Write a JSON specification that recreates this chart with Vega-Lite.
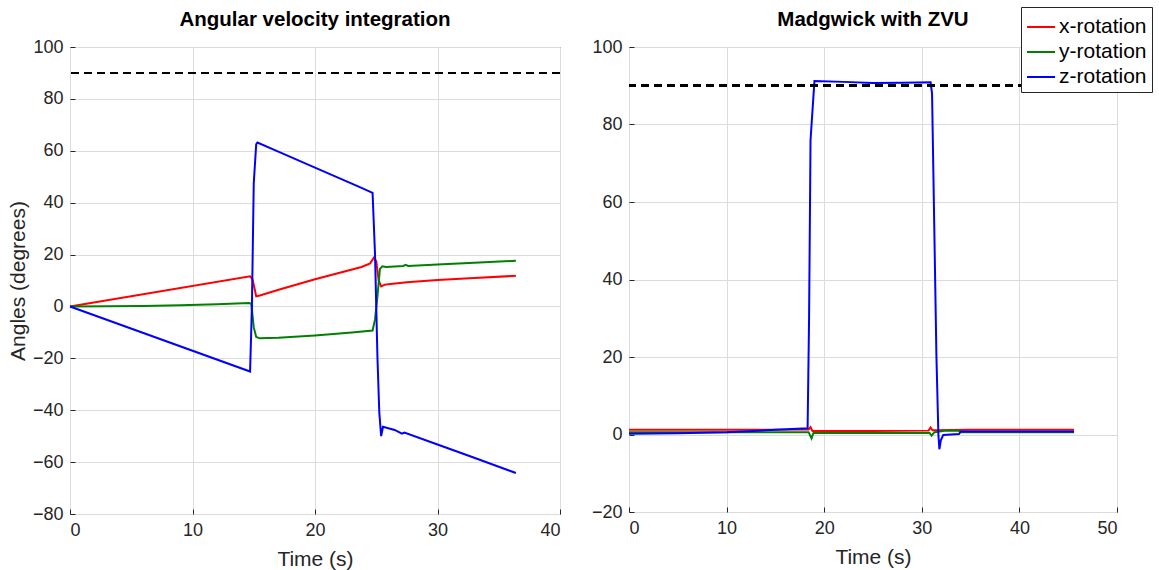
{
  "$schema": "https://vega.github.io/schema/vega-lite/v6.json",
  "padding": {"left": 6, "top": 6, "right": 0, "bottom": 0},
  "bounds": "flush",
  "spacing": 69,
  "config": {
    "font": "Liberation Sans",
    "view": {"stroke": "#262626", "strokeWidth": 1},
    "axis": {
      "labelFont": "Liberation Sans",
      "labelFontSize": 18,
      "labelColor": "#262626",
      "titleFont": "Liberation Sans",
      "titleFontSize": 21,
      "titleFontWeight": "normal",
      "titleColor": "#262626",
      "gridColor": "#dcdcdc",
      "gridWidth": 1,
      "domain": false,
      "ticks": true,
      "tickSize": -5,
      "tickColor": "#262626",
      "tickWidth": 1,
      "labelPadding": 12
    },
    "title": {"font": "Liberation Sans", "fontSize": 20.5, "fontWeight": "bold", "color": "#000000", "offset": 8, "anchor": "middle"}
  },
  "datasets": {
    "left": [
      {"t": 0, "v": 0, "s": "x-rotation"},
      {"t": 14.7, "v": 11.6, "s": "x-rotation"},
      {"t": 14.9, "v": 10.5, "s": "x-rotation"},
      {"t": 15.2, "v": 3.9, "s": "x-rotation"},
      {"t": 15.5, "v": 4.2, "s": "x-rotation"},
      {"t": 17.1, "v": 6.5, "s": "x-rotation"},
      {"t": 20, "v": 10.5, "s": "x-rotation"},
      {"t": 23.8, "v": 15.2, "s": "x-rotation"},
      {"t": 24.5, "v": 16.6, "s": "x-rotation"},
      {"t": 24.8, "v": 18.8, "s": "x-rotation"},
      {"t": 25.0, "v": 17.5, "s": "x-rotation"},
      {"t": 25.2, "v": 10, "s": "x-rotation"},
      {"t": 25.4, "v": 7.7, "s": "x-rotation"},
      {"t": 25.7, "v": 8.4, "s": "x-rotation"},
      {"t": 26, "v": 8.6, "s": "x-rotation"},
      {"t": 27.5, "v": 9.3, "s": "x-rotation"},
      {"t": 30, "v": 10.2, "s": "x-rotation"},
      {"t": 33, "v": 11, "s": "x-rotation"},
      {"t": 36.4, "v": 11.8, "s": "x-rotation"},
      {"t": 0, "v": 0, "s": "y-rotation"},
      {"t": 3, "v": 0.05, "s": "y-rotation"},
      {"t": 6, "v": 0.2, "s": "y-rotation"},
      {"t": 9, "v": 0.45, "s": "y-rotation"},
      {"t": 12, "v": 0.85, "s": "y-rotation"},
      {"t": 14.6, "v": 1.3, "s": "y-rotation"},
      {"t": 14.8, "v": 1.0, "s": "y-rotation"},
      {"t": 15.0, "v": -8, "s": "y-rotation"},
      {"t": 15.2, "v": -11.8, "s": "y-rotation"},
      {"t": 15.5, "v": -12.3, "s": "y-rotation"},
      {"t": 17, "v": -12.1, "s": "y-rotation"},
      {"t": 20, "v": -11.2, "s": "y-rotation"},
      {"t": 23, "v": -10, "s": "y-rotation"},
      {"t": 24.7, "v": -9.3, "s": "y-rotation"},
      {"t": 24.9, "v": -5, "s": "y-rotation"},
      {"t": 25.1, "v": 4, "s": "y-rotation"},
      {"t": 25.3, "v": 14.5, "s": "y-rotation"},
      {"t": 25.5, "v": 15.5, "s": "y-rotation"},
      {"t": 25.8, "v": 15.2, "s": "y-rotation"},
      {"t": 27.2, "v": 15.6, "s": "y-rotation"},
      {"t": 27.4, "v": 16, "s": "y-rotation"},
      {"t": 27.6, "v": 15.6, "s": "y-rotation"},
      {"t": 30, "v": 16.2, "s": "y-rotation"},
      {"t": 33, "v": 16.8, "s": "y-rotation"},
      {"t": 36.4, "v": 17.6, "s": "y-rotation"},
      {"t": 0, "v": 0, "s": "z-rotation"},
      {"t": 14.7, "v": -25.1, "s": "z-rotation"},
      {"t": 14.85, "v": 0, "s": "z-rotation"},
      {"t": 15.0, "v": 47.5, "s": "z-rotation"},
      {"t": 15.2, "v": 62.5, "s": "z-rotation"},
      {"t": 15.3, "v": 63.2, "s": "z-rotation"},
      {"t": 17.1, "v": 59.5, "s": "z-rotation"},
      {"t": 20, "v": 53.5, "s": "z-rotation"},
      {"t": 23.8, "v": 45.7, "s": "z-rotation"},
      {"t": 24.7, "v": 43.8, "s": "z-rotation"},
      {"t": 24.9, "v": 20, "s": "z-rotation"},
      {"t": 25.1, "v": -20, "s": "z-rotation"},
      {"t": 25.25, "v": -41, "s": "z-rotation"},
      {"t": 25.4, "v": -50, "s": "z-rotation"},
      {"t": 25.55, "v": -46.4, "s": "z-rotation"},
      {"t": 26.5, "v": -47.6, "s": "z-rotation"},
      {"t": 27.1, "v": -49, "s": "z-rotation"},
      {"t": 27.3, "v": -48.6, "s": "z-rotation"},
      {"t": 30, "v": -53.2, "s": "z-rotation"},
      {"t": 33, "v": -58.3, "s": "z-rotation"},
      {"t": 36.4, "v": -64.2, "s": "z-rotation"}
    ],
    "right": [
      {"t": 0, "v": 1.2, "s": "x-rotation"},
      {"t": 10, "v": 1.2, "s": "x-rotation"},
      {"t": 18.4, "v": 1.3, "s": "x-rotation"},
      {"t": 18.6, "v": 1.9, "s": "x-rotation"},
      {"t": 18.8, "v": 0.9, "s": "x-rotation"},
      {"t": 25, "v": 0.9, "s": "x-rotation"},
      {"t": 30.7, "v": 1.0, "s": "x-rotation"},
      {"t": 30.9, "v": 1.8, "s": "x-rotation"},
      {"t": 31.1, "v": 1.1, "s": "x-rotation"},
      {"t": 35, "v": 1.2, "s": "x-rotation"},
      {"t": 40, "v": 1.2, "s": "x-rotation"},
      {"t": 45.6, "v": 1.2, "s": "x-rotation"},
      {"t": 0, "v": 0.6, "s": "y-rotation"},
      {"t": 18.4, "v": 0.6, "s": "y-rotation"},
      {"t": 18.7, "v": -1.0, "s": "y-rotation"},
      {"t": 18.9, "v": 0.4, "s": "y-rotation"},
      {"t": 30.8, "v": 0.4, "s": "y-rotation"},
      {"t": 31.0, "v": -0.3, "s": "y-rotation"},
      {"t": 31.3, "v": 0.6, "s": "y-rotation"},
      {"t": 32.5, "v": 1.0, "s": "y-rotation"},
      {"t": 33.8, "v": 1.0, "s": "y-rotation"},
      {"t": 34.0, "v": 0.6, "s": "y-rotation"},
      {"t": 45.6, "v": 0.6, "s": "y-rotation"},
      {"t": 0, "v": 0.2, "s": "z-rotation"},
      {"t": 5, "v": 0.3, "s": "z-rotation"},
      {"t": 10, "v": 0.6, "s": "z-rotation"},
      {"t": 15, "v": 1.2, "s": "z-rotation"},
      {"t": 18.3, "v": 1.6, "s": "z-rotation"},
      {"t": 18.45, "v": 30, "s": "z-rotation"},
      {"t": 18.6, "v": 76, "s": "z-rotation"},
      {"t": 19.0, "v": 91.2, "s": "z-rotation"},
      {"t": 22, "v": 91.0, "s": "z-rotation"},
      {"t": 25, "v": 90.7, "s": "z-rotation"},
      {"t": 28, "v": 90.8, "s": "z-rotation"},
      {"t": 30.9, "v": 90.9, "s": "z-rotation"},
      {"t": 31.05, "v": 88, "s": "z-rotation"},
      {"t": 31.5, "v": 20, "s": "z-rotation"},
      {"t": 31.7, "v": 0, "s": "z-rotation"},
      {"t": 31.8, "v": -3.8, "s": "z-rotation"},
      {"t": 31.95, "v": -1.5, "s": "z-rotation"},
      {"t": 32.2, "v": -0.1, "s": "z-rotation"},
      {"t": 33.8, "v": 0.1, "s": "z-rotation"},
      {"t": 34.0, "v": 0.8, "s": "z-rotation"},
      {"t": 45.6, "v": 0.8, "s": "z-rotation"}
    ]
  },
  "hconcat": [
    {
      "width": 490,
      "height": 467,
      "title": "Angular velocity integration",
      "data": {"name": "left"},
      "layer": [
        {
          "mark": {"type": "line", "strokeWidth": 2},
          "encoding": {
            "x": {"field": "t", "type": "quantitative", "title": "Time (s)",
                  "scale": {"domain": [0, 40], "nice": false},
                  "axis": {"values": [0, 10, 20, 30, 40], "titlePadding": 9}},
            "y": {"field": "v", "type": "quantitative", "title": "Angles (degrees)",
                  "scale": {"domain": [-80, 100], "nice": false},
                  "axis": {"values": [-80, -60, -40, -20, 0, 20, 40, 60, 80, 100], "titlePadding": 4}},
            "color": {"field": "s", "type": "nominal",
                      "scale": {"domain": ["x-rotation", "y-rotation", "z-rotation"], "range": ["#FF0000", "#008000", "#0000FF"]},
                      "legend": {"title": null, "orient": "none", "legendX": 951, "legendY": -40,
                                 "fillColor": "white", "strokeColor": "#262626", "padding": 5,
                                 "symbolType": "stroke", "symbolStrokeWidth": 2, "symbolSize": 784,
                                 "labelFont": "Liberation Sans", "labelFontSize": 21, "labelColor": "#000000",
                                 "labelOffset": 3, "rowPadding": -1, "cornerRadius": 0}}
          }
        },
        {
          "mark": {"type": "rule", "strokeDash": [8, 5], "strokeWidth": 2, "color": "#000000"},
          "encoding": {"y": {"datum": 90}}
        }
      ]
    },
    {
      "width": 488,
      "height": 465,
      "title": "Madgwick with ZVU",
      "data": {"name": "right"},
      "layer": [
        {
          "mark": {"type": "line", "strokeWidth": 2},
          "encoding": {
            "x": {"field": "t", "type": "quantitative", "title": "Time (s)",
                  "scale": {"domain": [0, 50], "nice": false},
                  "axis": {"values": [0, 10, 20, 30, 40, 50], "titlePadding": 9}},
            "y": {"field": "v", "type": "quantitative", "title": null,
                  "scale": {"domain": [-20, 100], "nice": false},
                  "axis": {"values": [-20, 0, 20, 40, 60, 80, 100]}},
            "color": {"field": "s", "type": "nominal",
                      "scale": {"domain": ["x-rotation", "y-rotation", "z-rotation"], "range": ["#FF0000", "#008000", "#0000FF"]}}
          }
        },
        {
          "mark": {"type": "rule", "strokeDash": [8, 5], "strokeWidth": 2, "color": "#000000"},
          "encoding": {"y": {"datum": 90}}
        }
      ]
    }
  ]
}
